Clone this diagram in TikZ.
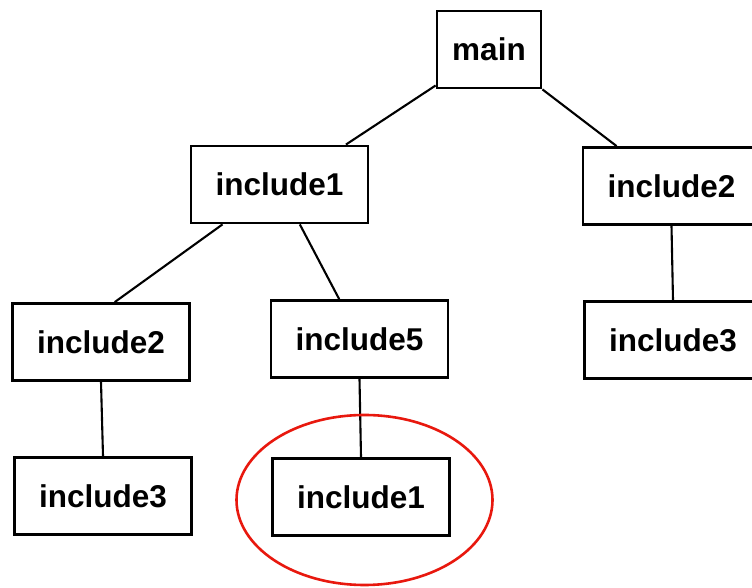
\documentclass[tikz,border=0pt]{standalone}
\usepackage{fontspec}
\setmainfont{Liberation Sans}
\usepackage{tikz}
\newcommand{\filefont}{\fontsize{31.5}{36}\selectfont\bfseries}
\definecolor{markred}{RGB}{232,24,14}

\begin{document}
\begin{tikzpicture}[x=1pt,y=1pt,
  filebox/.style={draw,line width=2.8pt,inner sep=0pt,minimum width=177pt,minimum height=77pt,font=\filefont},
  link/.style={line width=2.1pt},
  circled/.style={draw=markred,line width=2.6pt}]
\useasboundingbox (0,0) rectangle (752,588);

\node[filebox,minimum width=104pt] at (489,538.5) (main){main};
\node[filebox] at (279.5,403.5) (inc1){include1};
\node[filebox] at (671.5,402) (inc2r){include2};
\node[filebox] at (673,248) (inc3r){include3};
\node[filebox] at (101,246) (inc2l){include2};
\node[filebox] at (359.5,249) (inc5){include5};
\node[filebox] at (103,92) (inc3l){include3};
\node[filebox] at (361,91) (inc1b){include1};

\draw[link] (main.214) -- (inc1.31)
(main.south east) -- (inc2r.144)
(inc1.215) -- (inc2l.71)
(inc1.297) -- (inc5.117)
(inc2l.south) -- (inc3l.north)
(inc5.south) -- (inc1b.north)
(inc2r.south) -- (inc3r.north);

% the repeated include
\draw[circled] ([xshift=3.5pt,yshift=-3pt]inc1b.center) ellipse (128pt and 85pt);

\end{tikzpicture}
\end{document}
